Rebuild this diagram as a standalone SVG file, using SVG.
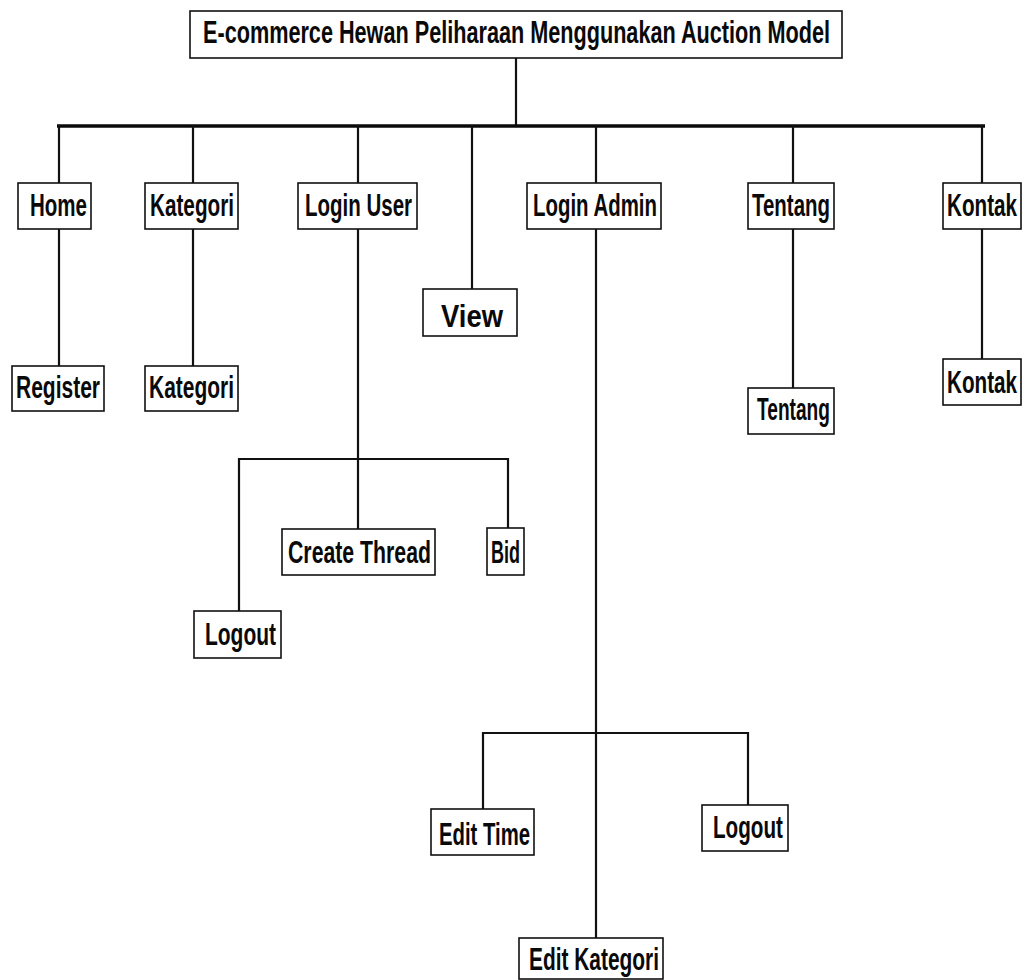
<svg xmlns="http://www.w3.org/2000/svg" width="1024" height="980" viewBox="0 0 1024 980">
  <style>
    .box { fill: #ffffff; stroke: #111111; stroke-width: 1.6; }
    .lbl { font-family: "Liberation Sans", Arial, sans-serif; font-weight: bold; font-size: 32px; fill: #0a0a0a; }
    .wire { fill: none; stroke: #111111; stroke-width: 2.2; stroke-linecap: square; }
    .bus { fill: none; stroke: #0a0a0a; stroke-width: 3.6; }
  </style>
  <rect width="1024" height="980" fill="#ffffff"/>

  <!-- connectors -->
  <g id="connectors">
    <line class="wire" x1="516" y1="58" x2="516" y2="126"/>
    <line class="bus" x1="57" y1="126" x2="985" y2="126"/>
    <!-- drops from the main bar -->
    <line class="wire" x1="59" y1="126" x2="59" y2="183"/>
    <line class="wire" x1="193" y1="126" x2="193" y2="183"/>
    <line class="wire" x1="358" y1="126" x2="358" y2="183"/>
    <line class="wire" x1="472" y1="126" x2="472" y2="289"/>
    <line class="wire" x1="596" y1="126" x2="596" y2="183"/>
    <line class="wire" x1="793" y1="126" x2="793" y2="183"/>
    <line class="wire" x1="982" y1="126" x2="982" y2="183"/>
    <!-- Home / Kategori / Tentang / Kontak children -->
    <line class="wire" x1="59" y1="229" x2="59" y2="366"/>
    <line class="wire" x1="193" y1="229" x2="193" y2="366"/>
    <line class="wire" x1="793" y1="229" x2="793" y2="388"/>
    <line class="wire" x1="982" y1="229" x2="982" y2="359"/>
    <!-- Login User branch -->
    <line class="wire" x1="358" y1="229" x2="358" y2="529"/>
    <polyline class="wire" points="239,611 239,459 508,459 508,528"/>
    <!-- Login Admin branch -->
    <line class="wire" x1="596" y1="229" x2="596" y2="938"/>
    <polyline class="wire" points="483,809 483,733 748,733 748,805"/>
  </g>

  <g id="node-root">
    <rect class="box" x="190" y="11" width="652" height="47"/>
    <text class="lbl" x="203" y="43" font-size="34" textLength="627" lengthAdjust="spacingAndGlyphs">E-commerce Hewan Peliharaan Menggunakan Auction Model</text>
  </g>

  <g id="node-home">
    <rect class="box" x="18" y="183" width="73" height="46"/>
    <text class="lbl" x="30" y="216" textLength="57" lengthAdjust="spacingAndGlyphs">Home</text>
  </g>
  <g id="node-kategori">
    <rect class="box" x="145" y="183" width="93" height="46"/>
    <text class="lbl" x="150" y="216" textLength="84" lengthAdjust="spacingAndGlyphs">Kategori</text>
  </g>
  <g id="node-login-user">
    <rect class="box" x="298" y="183" width="119" height="46"/>
    <text class="lbl" x="305" y="216" textLength="107" lengthAdjust="spacingAndGlyphs">Login User</text>
  </g>
  <g id="node-view">
    <rect class="box" x="423" y="289" width="94" height="47"/>
    <text class="lbl" x="441" y="327" font-size="38" textLength="62" lengthAdjust="spacingAndGlyphs">View</text>
  </g>
  <g id="node-login-admin">
    <rect class="box" x="527" y="183" width="134" height="46"/>
    <text class="lbl" x="533" y="216" textLength="124" lengthAdjust="spacingAndGlyphs">Login Admin</text>
  </g>
  <g id="node-tentang">
    <rect class="box" x="748" y="183" width="86" height="46"/>
    <text class="lbl" x="752" y="216" textLength="78" lengthAdjust="spacingAndGlyphs">Tentang</text>
  </g>
  <g id="node-kontak">
    <rect class="box" x="943" y="183" width="78" height="46"/>
    <text class="lbl" x="947" y="216" textLength="70" lengthAdjust="spacingAndGlyphs">Kontak</text>
  </g>

  <g id="node-register">
    <rect class="box" x="12" y="366" width="92" height="45"/>
    <text class="lbl" x="16" y="398" textLength="84" lengthAdjust="spacingAndGlyphs">Register</text>
  </g>
  <g id="node-kategori-page">
    <rect class="box" x="145" y="366" width="93" height="45"/>
    <text class="lbl" x="149" y="398" textLength="85" lengthAdjust="spacingAndGlyphs">Kategori</text>
  </g>
  <g id="node-tentang-page">
    <rect class="box" x="748" y="388" width="86" height="46"/>
    <text class="lbl" x="757" y="420" textLength="73" lengthAdjust="spacingAndGlyphs">Tentang</text>
  </g>
  <g id="node-kontak-page">
    <rect class="box" x="943" y="359" width="78" height="46"/>
    <text class="lbl" x="947" y="393" textLength="70" lengthAdjust="spacingAndGlyphs">Kontak</text>
  </g>

  <g id="node-create-thread">
    <rect class="box" x="282" y="529" width="153" height="46"/>
    <text class="lbl" x="288" y="563" textLength="143" lengthAdjust="spacingAndGlyphs">Create Thread</text>
  </g>
  <g id="node-bid">
    <rect class="box" x="487" y="528" width="37" height="47"/>
    <text class="lbl" x="491" y="563" textLength="29" lengthAdjust="spacingAndGlyphs">Bid</text>
  </g>
  <g id="node-logout-user">
    <rect class="box" x="194" y="611" width="87" height="47"/>
    <text class="lbl" x="205" y="645" textLength="71" lengthAdjust="spacingAndGlyphs">Logout</text>
  </g>

  <g id="node-edit-time">
    <rect class="box" x="431" y="809" width="103" height="46"/>
    <text class="lbl" x="439" y="845" textLength="91" lengthAdjust="spacingAndGlyphs">Edit Time</text>
  </g>
  <g id="node-logout-admin">
    <rect class="box" x="702" y="805" width="86" height="46"/>
    <text class="lbl" x="713" y="838" textLength="70" lengthAdjust="spacingAndGlyphs">Logout</text>
  </g>
  <g id="node-edit-kategori">
    <rect class="box" x="519" y="938" width="144" height="41"/>
    <text class="lbl" x="529" y="970" textLength="130" lengthAdjust="spacingAndGlyphs">Edit Kategori</text>
  </g>
</svg>
